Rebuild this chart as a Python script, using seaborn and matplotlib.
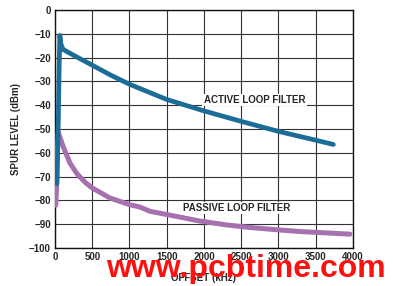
import matplotlib
matplotlib.use("Agg")
import matplotlib.pyplot as plt
import seaborn as sns
import pandas as pd

active_x = [25, 35, 45, 55, 65, 80, 110, 225, 500, 750, 1000, 1500, 2000, 2500, 3000, 3500, 3737]
active_y = [-73, -60, -45, -25, -10.7, -14.5, -16.6, -18.6, -23.2, -27.4, -31.2, -37.6, -42.4, -46.8, -51, -54.7, -56.5]

passive_x = [10, 20, 30, 45, 60, 110, 200, 290, 400, 500, 738, 1000, 1140, 1275, 1544, 1946, 2300, 2617, 3000, 3289, 3600, 3960]
passive_y = [-82, -75, -60, -51.4, -53, -57.4, -64.3, -68.6, -72.3, -74.8, -79, -81.8, -82.8, -84.6, -86.2, -88.7, -90.3, -91.4, -92.4, -93.1, -93.6, -94.2]

xticks = [0, 500, 1000, 1500, 2000, 2500, 3000, 3500, 4000]
yticks = [0, -10, -20, -30, -40, -50, -60, -70, -80, -90, -100]

ACTIVE_C = "#1b6d97"
PASSIVE_C = "#a771b0"

sns.set_style("white")
plt.rcParams['font.family'] = ['Liberation Sans', 'DejaVu Sans']

fig = plt.figure(figsize=(3.93, 2.86), dpi=100)
ax = fig.add_axes([0.140, 0.133, 0.758, 0.832])

df_a = pd.DataFrame({"x": active_x, "y": active_y})
df_p = pd.DataFrame({"x": passive_x, "y": passive_y})

sns.lineplot(data=df_p, x="x", y="y", ax=ax, color=PASSIVE_C, linewidth=3.6, zorder=3)
sns.lineplot(data=df_a, x="x", y="y", ax=ax, color=ACTIVE_C, linewidth=3.4, zorder=3)

ax.set_xlim(0, 4000)
ax.set_ylim(-100, 0)
ax.set_xticks(xticks)
ax.set_yticks(yticks)
ax.set_xticklabels([str(t) for t in xticks], fontsize=7, fontweight='bold')
ax.set_yticklabels([("\u2212" + str(abs(t))) if t < 0 else str(t) for t in yticks], fontsize=7, fontweight='bold')
ax.tick_params(length=0, pad=3)
ax.grid(True, color="#333333", linewidth=0.8)
ax.set_axisbelow(True)
for s in ax.spines.values():
    s.set_color("#111111")
    s.set_linewidth(1.0)

ax.set_xlabel("OFFSET (kHz)", fontsize=7, fontweight='bold', labelpad=8)
ax.set_ylabel("SPUR LEVEL (dBm)", fontsize=7, fontweight='bold', labelpad=6)

ax.text(2678, -37.8, "ACTIVE LOOP FILTER", fontsize=7, fontweight='bold', ha='center', va='center',
        bbox=dict(facecolor='white', edgecolor='none', pad=1), zorder=4)
ax.text(2436, -83.2, "PASSIVE LOOP FILTER", fontsize=7, fontweight='bold', ha='center', va='center',
        bbox=dict(facecolor='white', edgecolor='none', pad=1), zorder=4)

fig.text(0.625, 0.058, "www.pcbtime.com", color="#ff1010", fontsize=23, fontweight='bold',
         ha='center', va='center', zorder=10)

fig.savefig("out.png", dpi=100)
